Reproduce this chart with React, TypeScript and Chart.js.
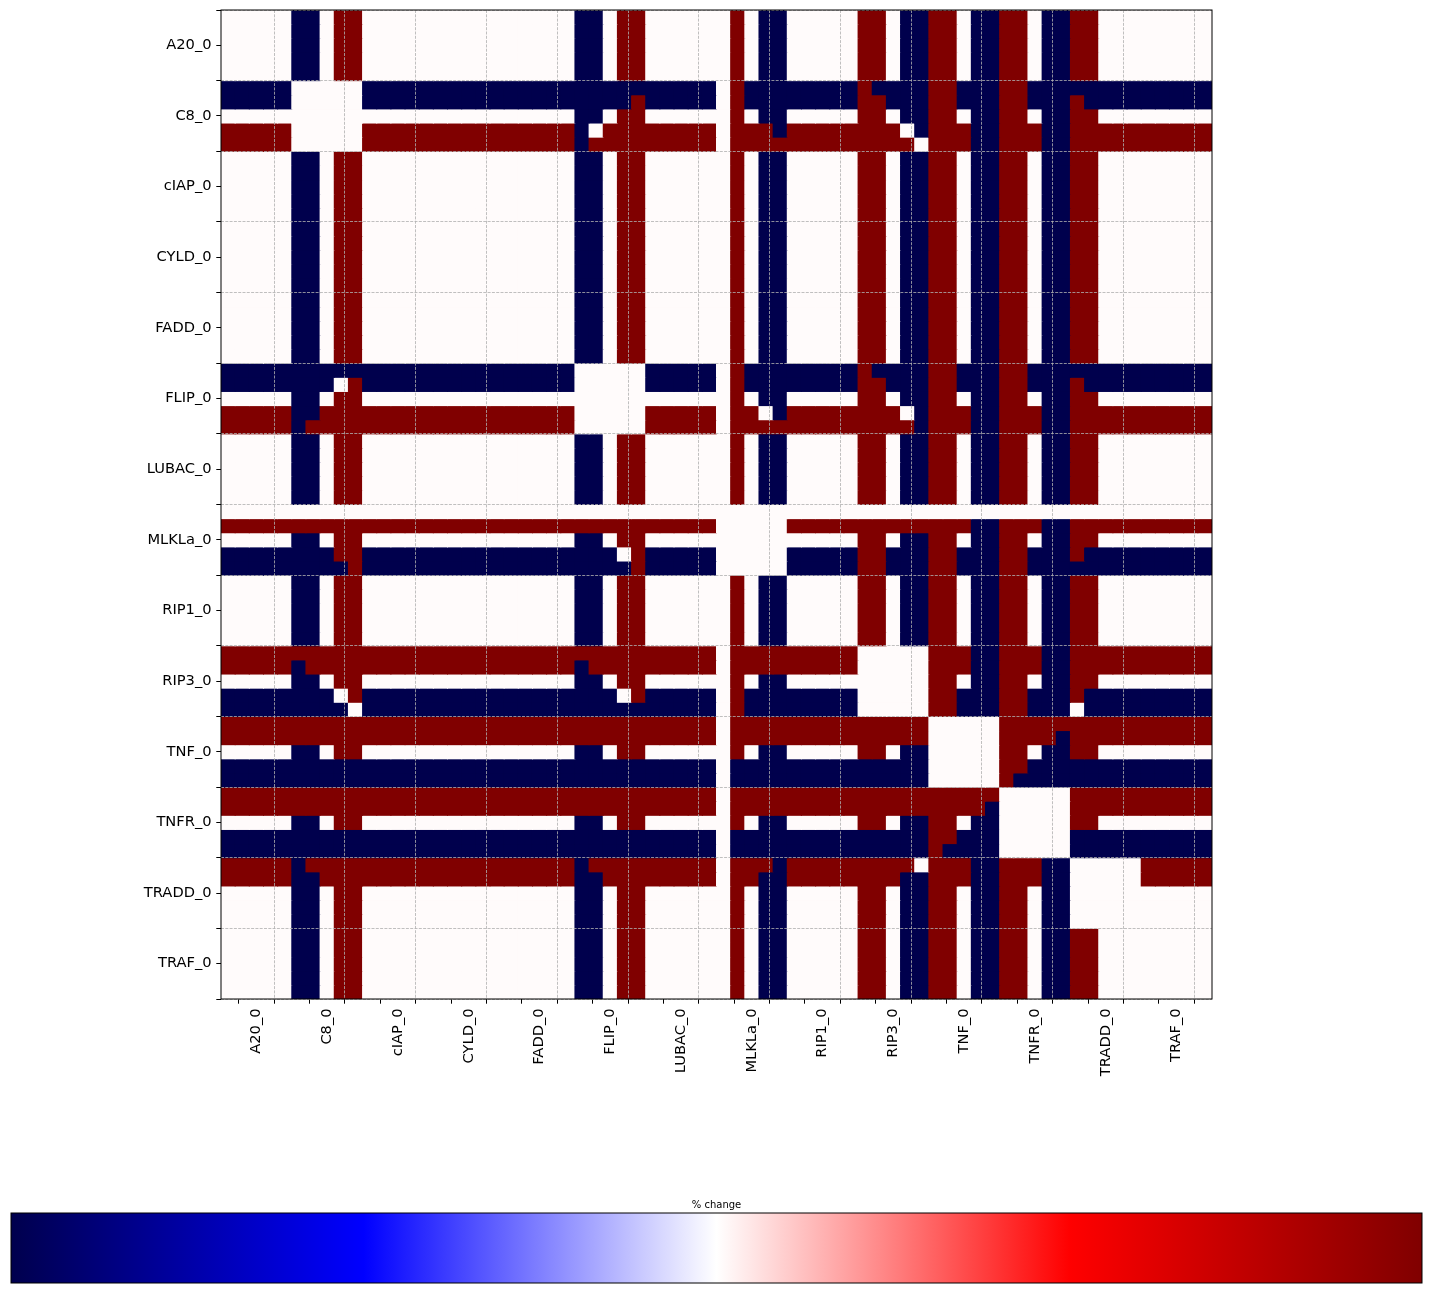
import React, { useEffect, useRef } from 'react';
import { Chart, registerables } from 'chart.js';

Chart.register(...registerables);

// Perturbed variables (each has 5 perturbation levels, shown as 5 sub-rows / sub-columns)
const variableLabels = ['A20_0', 'C8_0', 'cIAP_0', 'CYLD_0', 'FADD_0', 'FLIP_0', 'LUBAC_0', 'MLKLa_0', 'RIP1_0', 'RIP3_0', 'TNF_0', 'TNFR_0', 'TRADD_0', 'TRAF_0'];
const levelsPerVariable = 5;
const colorbarTitle = '% change';
const valueMin = -100;
const valueMax = 100;
// Cell codes: B = -100 % change, R = +100 % change, 0 = no change
const codeValues: Record<string, number> = { B: -100, R: 100, '0': 0 };

// Column blocks in each row: A20 C8 cIAP CYLD FADD FLIP LUBAC MLKLa RIP1 RIP3 TNF TNFR TRADD TRAF
const rowsA20 = [
  '00000 BB0RR 00000 00000 00000 BB0RR 00000 0R0BB 00000 RR0BB RR0BB RR0BB RR000 00000',
  '00000 BB0RR 00000 00000 00000 BB0RR 00000 0R0BB 00000 RR0BB RR0BB RR0BB RR000 00000',
  '00000 BB0RR 00000 00000 00000 BB0RR 00000 0R0BB 00000 RR0BB RR0BB RR0BB RR000 00000',
  '00000 BB0RR 00000 00000 00000 BB0RR 00000 0R0BB 00000 RR0BB RR0BB RR0BB RR000 00000',
  '00000 BB0RR 00000 00000 00000 BB0RR 00000 0R0BB 00000 RR0BB RR0BB RR0BB RR000 00000',
];
const rowsC8 = [
  'BBBBB 00000 BBBBB BBBBB BBBBB BBBBB BBBBB 0RBBB BBBBB RBBBB RRBBB RRBBB BBBBB BBBBB',
  'BBBBB 00000 BBBBB BBBBB BBBBB BBBBR BBBBB 0RBBB BBBBB RRBBB RRBBB RRBBB RBBBB BBBBB',
  '00000 00000 00000 00000 00000 BB0RR 00000 0R0BB 00000 RR0BB RR0BB RR0BB RR000 00000',
  'RRRRR 00000 RRRRR RRRRR RRRRR B0RRR RRRRR 0RRRB RRRRR RRR0B RRRBB RRRBB RRRRR RRRRR',
  'RRRRR 00000 RRRRR RRRRR RRRRR BRRRR RRRRR 0RRRR RRRRR RRRR0 RRRBB RRRBB RRRRR RRRRR',
];
const rowsCIAP = [
  '00000 BB0RR 00000 00000 00000 BB0RR 00000 0R0BB 00000 RR0BB RR0BB RR0BB RR000 00000',
  '00000 BB0RR 00000 00000 00000 BB0RR 00000 0R0BB 00000 RR0BB RR0BB RR0BB RR000 00000',
  '00000 BB0RR 00000 00000 00000 BB0RR 00000 0R0BB 00000 RR0BB RR0BB RR0BB RR000 00000',
  '00000 BB0RR 00000 00000 00000 BB0RR 00000 0R0BB 00000 RR0BB RR0BB RR0BB RR000 00000',
  '00000 BB0RR 00000 00000 00000 BB0RR 00000 0R0BB 00000 RR0BB RR0BB RR0BB RR000 00000',
];
const rowsCYLD = [
  '00000 BB0RR 00000 00000 00000 BB0RR 00000 0R0BB 00000 RR0BB RR0BB RR0BB RR000 00000',
  '00000 BB0RR 00000 00000 00000 BB0RR 00000 0R0BB 00000 RR0BB RR0BB RR0BB RR000 00000',
  '00000 BB0RR 00000 00000 00000 BB0RR 00000 0R0BB 00000 RR0BB RR0BB RR0BB RR000 00000',
  '00000 BB0RR 00000 00000 00000 BB0RR 00000 0R0BB 00000 RR0BB RR0BB RR0BB RR000 00000',
  '00000 BB0RR 00000 00000 00000 BB0RR 00000 0R0BB 00000 RR0BB RR0BB RR0BB RR000 00000',
];
const rowsFADD = [
  '00000 BB0RR 00000 00000 00000 BB0RR 00000 0R0BB 00000 RR0BB RR0BB RR0BB RR000 00000',
  '00000 BB0RR 00000 00000 00000 BB0RR 00000 0R0BB 00000 RR0BB RR0BB RR0BB RR000 00000',
  '00000 BB0RR 00000 00000 00000 BB0RR 00000 0R0BB 00000 RR0BB RR0BB RR0BB RR000 00000',
  '00000 BB0RR 00000 00000 00000 BB0RR 00000 0R0BB 00000 RR0BB RR0BB RR0BB RR000 00000',
  '00000 BB0RR 00000 00000 00000 BB0RR 00000 0R0BB 00000 RR0BB RR0BB RR0BB RR000 00000',
];
const rowsFLIP = [
  'BBBBB BBBBB BBBBB BBBBB BBBBB 00000 BBBBB 0RBBB BBBBB RBBBB RRBBB RRBBB BBBBB BBBBB',
  'BBBBB BBB0R BBBBB BBBBB BBBBB 00000 BBBBB 0RBBB BBBBB RRBBB RRBBB RRBBB RBBBB BBBBB',
  '00000 BB0RR 00000 00000 00000 00000 00000 0R0BB 00000 RR0BB RR0BB RR0BB RR000 00000',
  'RRRRR BBRRR RRRRR RRRRR RRRRR 00000 RRRRR 0RR0B RRRRR RRR0B RRRBB RRRBB RRRRR RRRRR',
  'RRRRR BRRRR RRRRR RRRRR RRRRR 00000 RRRRR 0RRRR RRRRR RRRRB RRRBB RRRBB RRRRR RRRRR',
];
const rowsLUBAC = [
  '00000 BB0RR 00000 00000 00000 BB0RR 00000 0R0BB 00000 RR0BB RR0BB RR0BB RR000 00000',
  '00000 BB0RR 00000 00000 00000 BB0RR 00000 0R0BB 00000 RR0BB RR0BB RR0BB RR000 00000',
  '00000 BB0RR 00000 00000 00000 BB0RR 00000 0R0BB 00000 RR0BB RR0BB RR0BB RR000 00000',
  '00000 BB0RR 00000 00000 00000 BB0RR 00000 0R0BB 00000 RR0BB RR0BB RR0BB RR000 00000',
  '00000 BB0RR 00000 00000 00000 BB0RR 00000 0R0BB 00000 RR0BB RR0BB RR0BB RR000 00000',
];
const rowsMLKLa = [
  '00000 00000 00000 00000 00000 00000 00000 00000 00000 00000 00000 00000 00000 00000',
  'RRRRR RRRRR RRRRR RRRRR RRRRR RRRRR RRRRR 00000 RRRRR RRRRR RRRBB RRRBB RRRRR RRRRR',
  '00000 BB0RR 00000 00000 00000 BB0RR 00000 00000 00000 RR0BB RR0BB RR0BB RR000 00000',
  'BBBBB BBBRR BBBBB BBBBB BBBBB BBB0R BBBBB 00000 BBBBB RRBBB RRBBB RRBBB RBBBB BBBBB',
  'BBBBB BBBBR BBBBB BBBBB BBBBB BBBBR BBBBB 00000 BBBBB RRBBB RRBBB RRBBB BBBBB BBBBB',
];
const rowsRIP1 = [
  '00000 BB0RR 00000 00000 00000 BB0RR 00000 0R0BB 00000 RR0BB RR0BB RR0BB RR000 00000',
  '00000 BB0RR 00000 00000 00000 BB0RR 00000 0R0BB 00000 RR0BB RR0BB RR0BB RR000 00000',
  '00000 BB0RR 00000 00000 00000 BB0RR 00000 0R0BB 00000 RR0BB RR0BB RR0BB RR000 00000',
  '00000 BB0RR 00000 00000 00000 BB0RR 00000 0R0BB 00000 RR0BB RR0BB RR0BB RR000 00000',
  '00000 BB0RR 00000 00000 00000 BB0RR 00000 0R0BB 00000 RR0BB RR0BB RR0BB RR000 00000',
];
const rowsRIP3 = [
  'RRRRR RRRRR RRRRR RRRRR RRRRR RRRRR RRRRR 0RRRR RRRRR 00000 RRRBB RRRBB RRRRR RRRRR',
  'RRRRR BRRRR RRRRR RRRRR RRRRR BRRRR RRRRR 0RRRR RRRRR 00000 RRRBB RRRBB RRRRR RRRRR',
  '00000 BB0RR 00000 00000 00000 BB0RR 00000 0R0BB 00000 00000 RR0BB RR0BB RR000 00000',
  'BBBBB BBB0R BBBBB BBBBB BBBBB BBB0R BBBBB 0RBBB BBBBB 00000 RRBBB RRBBB RBBBB BBBBB',
  'BBBBB BBBB0 BBBBB BBBBB BBBBB BBBBB BBBBB 0RBBB BBBBB 00000 RRBBB RRBBB 0BBBB BBBBB',
];
const rowsTNF = [
  'RRRRR RRRRR RRRRR RRRRR RRRRR RRRRR RRRRR 0RRRR RRRRR RRRRR 00000 RRRRR RRRRR RRRRR',
  'RRRRR RRRRR RRRRR RRRRR RRRRR RRRRR RRRRR 0RRRR RRRRR RRRRR 00000 RRRRB RRRRR RRRRR',
  '00000 BB0RR 00000 00000 00000 BB0RR 00000 0R0BB 00000 RR0BB 00000 RR0BB RR000 00000',
  'BBBBB BBBBB BBBBB BBBBB BBBBB BBBBB BBBBB 0BBBB BBBBB BBBBB 00000 RRBBB BBBBB BBBBB',
  'BBBBB BBBBB BBBBB BBBBB BBBBB BBBBB BBBBB 0BBBB BBBBB BBBBB 00000 RBBBB BBBBB BBBBB',
];
const rowsTNFR = [
  'RRRRR RRRRR RRRRR RRRRR RRRRR RRRRR RRRRR 0RRRR RRRRR RRRRR RRRRR 00000 RRRRR RRRRR',
  'RRRRR RRRRR RRRRR RRRRR RRRRR RRRRR RRRRR 0RRRR RRRRR RRRRR RRRRB 00000 RRRRR RRRRR',
  '00000 BB0RR 00000 00000 00000 BB0RR 00000 0R0BB 00000 RR0BB RR0BB 00000 RR000 00000',
  'BBBBB BBBBB BBBBB BBBBB BBBBB BBBBB BBBBB 0BBBB BBBBB BBBBB RRBBB 00000 BBBBB BBBBB',
  'BBBBB BBBBB BBBBB BBBBB BBBBB BBBBB BBBBB 0BBBB BBBBB BBBBB RBBBB 00000 BBBBB BBBBB',
];
const rowsTRADD = [
  'RRRRR BRRRR RRRRR RRRRR RRRRR BRRRR RRRRR 0RRRB RRRRR RRRR0 RRRBB RRRBB 00000 RRRRR',
  'RRRRR BBRRR RRRRR RRRRR RRRRR BBRRR RRRRR 0RRBB RRRRR RRRBB RRRBB RRRBB 00000 RRRRR',
  '00000 BB0RR 00000 00000 00000 BB0RR 00000 0R0BB 00000 RR0BB RR0BB RR0BB 00000 00000',
  '00000 BB0RR 00000 00000 00000 BB0RR 00000 0R0BB 00000 RR0BB RR0BB RR0BB 00000 00000',
  '00000 BB0RR 00000 00000 00000 BB0RR 00000 0R0BB 00000 RR0BB RR0BB RR0BB 00000 00000',
];
const rowsTRAF = [
  '00000 BB0RR 00000 00000 00000 BB0RR 00000 0R0BB 00000 RR0BB RR0BB RR0BB RR000 00000',
  '00000 BB0RR 00000 00000 00000 BB0RR 00000 0R0BB 00000 RR0BB RR0BB RR0BB RR000 00000',
  '00000 BB0RR 00000 00000 00000 BB0RR 00000 0R0BB 00000 RR0BB RR0BB RR0BB RR000 00000',
  '00000 BB0RR 00000 00000 00000 BB0RR 00000 0R0BB 00000 RR0BB RR0BB RR0BB RR000 00000',
  '00000 BB0RR 00000 00000 00000 BB0RR 00000 0R0BB 00000 RR0BB RR0BB RR0BB RR000 00000',
];

const rowBlocks = [rowsA20, rowsC8, rowsCIAP, rowsCYLD, rowsFADD, rowsFLIP, rowsLUBAC, rowsMLKLa, rowsRIP1, rowsRIP3, rowsTNF, rowsTNFR, rowsTRADD, rowsTRAF];

// matplotlib "seismic" colormap stops
const seismicStops: [number, number[]][] = [
  [0, [0, 0, 76.5]],
  [0.25, [0, 0, 255]],
  [0.5, [255, 255, 255]],
  [0.75, [255, 0, 0]],
  [1, [127.5, 0, 0]],
];

function seismicRGB(t: number): string {
  const tt = Math.max(0, Math.min(1, t));
  for (let i = 0; i < seismicStops.length - 1; i++) {
    const [t0, c0] = seismicStops[i];
    const [t1, c1] = seismicStops[i + 1];
    if (tt >= t0 && tt <= t1) {
      const f = (tt - t0) / (t1 - t0);
      const c = c0.map((v, k) => Math.round(v + (c1[k] - v) * f));
      return `rgb(${c[0]},${c[1]},${c[2]})`;
    }
  }
  return 'rgb(127,0,0)';
}

function colorFor(v: number): string {
  if (v === 0) return '#fffbfb';
  return seismicRGB((v - valueMin) / (valueMax - valueMin));
}

const FONT = "'DejaVu Sans', 'Liberation Sans', sans-serif";

export default function App() {
  const canvasRef = useRef<HTMLCanvasElement | null>(null);

  useEffect(() => {
    const canvas = canvasRef.current;
    if (!canvas) return;

    const matrix: number[][] = [];
    rowBlocks.forEach((block) => {
      block.forEach((s) => {
        matrix.push(s.replace(/ /g, '').split('').map((ch) => codeValues[ch]));
      });
    });
    const n = matrix.length;
    const nVars = variableLabels.length;

    const tickValues: number[] = [];
    for (let i = 0; i <= nVars * 2; i++) tickValues.push(i * levelsPerVariable / 2);

    const labelAt = (v: number) => {
      const k = (v - levelsPerVariable / 2) / levelsPerVariable;
      if (Math.abs(k - Math.round(k)) < 1e-6 && k >= 0 && k < nVars) return variableLabels[Math.round(k)];
      return '';
    };
    const isBoundary = (v: number) => Math.abs(v / levelsPerVariable - Math.round(v / levelsPerVariable)) < 1e-6;

    const datasets = matrix.map((row, r) => ({
      data: row.map((v, c) => ({ x: c + 0.5, y: [r, r + 1] })),
      backgroundColor: row.map((v) => colorFor(v)),
      borderWidth: 0,
      barPercentage: 1,
      categoryPercentage: 1,
      grouped: false,
      inflateAmount: 0.5,
    }));

    const axisCommon = (isX: boolean) => ({
      type: 'linear' as const,
      min: 0,
      max: n,
      offset: false,
      afterBuildTicks: (s: any) => {
        s.ticks = tickValues.map((v) => ({ value: v }));
      },
      ticks: {
        autoSkip: false,
        color: '#000',
        padding: 4.7,
        font: { family: FONT, size: 14.67 },
        callback: (v: any) => labelAt(Number(v)),
        ...(isX ? { minRotation: 90, maxRotation: 90 } : {}),
      },
      grid: {
        z: 1,
        color: (ctx: any) => (ctx.tick && isBoundary(ctx.tick.value) ? '#b0b0b0' : 'rgba(0,0,0,0)'),
        lineWidth: 0.8,
        tickColor: '#000',
        tickLength: 4.7,
        tickWidth: 1,
      },
      border: { display: false, dash: [3, 1.3] },
    });

    const framePlugin = {
      id: 'frameAndColorbar',
      afterDraw(chart: any) {
        const { ctx, chartArea } = chart;
        ctx.save();
        ctx.strokeStyle = '#000';
        ctx.lineWidth = 1;
        ctx.strokeRect(chartArea.left, chartArea.top, chartArea.right - chartArea.left, chartArea.bottom - chartArea.top);

        // colorbar
        const cbL = 11, cbR = 1422, cbT = 1213, cbB = 1283;
        const grad = ctx.createLinearGradient(cbL, 0, cbR, 0);
        seismicStops.forEach(([t]) => grad.addColorStop(t, seismicRGB(t)));
        ctx.fillStyle = grad;
        ctx.fillRect(cbL, cbT, cbR - cbL, cbB - cbT);
        ctx.strokeRect(cbL, cbT, cbR - cbL, cbB - cbT);
        ctx.fillStyle = '#000';
        ctx.font = `10px ${FONT}`;
        ctx.textAlign = 'center';
        ctx.textBaseline = 'bottom';
        ctx.fillText(colorbarTitle, (cbL + cbR) / 2, cbT - 3);
        ctx.restore();
      },
    };

    const chart = new Chart(canvas, {
      type: 'bar',
      data: { datasets: datasets as any },
      options: {
        responsive: false,
        animation: false,
        events: [],
        indexAxis: 'x',
        layout: { padding: { left: 0, top: 10, right: 220, bottom: 195 } },
        plugins: { legend: { display: false }, tooltip: { enabled: false } },
        scales: {
          x: {
            ...axisCommon(true),
            afterFit: (s: any) => {
              s.height = 100;
              s.paddingLeft = 0; s.paddingRight = 0; s.paddingTop = 0; s.paddingBottom = 0;
            },
          } as any,
          y: {
            ...axisCommon(false),
            reverse: true,
            afterFit: (s: any) => {
              s.width = 221;
              s.paddingLeft = 0; s.paddingRight = 0; s.paddingTop = 0; s.paddingBottom = 0;
            },
          } as any,
        },
      },
      plugins: [framePlugin],
    });

    return () => chart.destroy();
  }, []);

  return (
    <div style={{ position: 'absolute', left: 0, top: 0, width: 1432, height: 1294, background: '#fff' }}>
      <canvas ref={canvasRef} width={1432} height={1294} style={{ display: 'block' }} />
    </div>
  );
}
